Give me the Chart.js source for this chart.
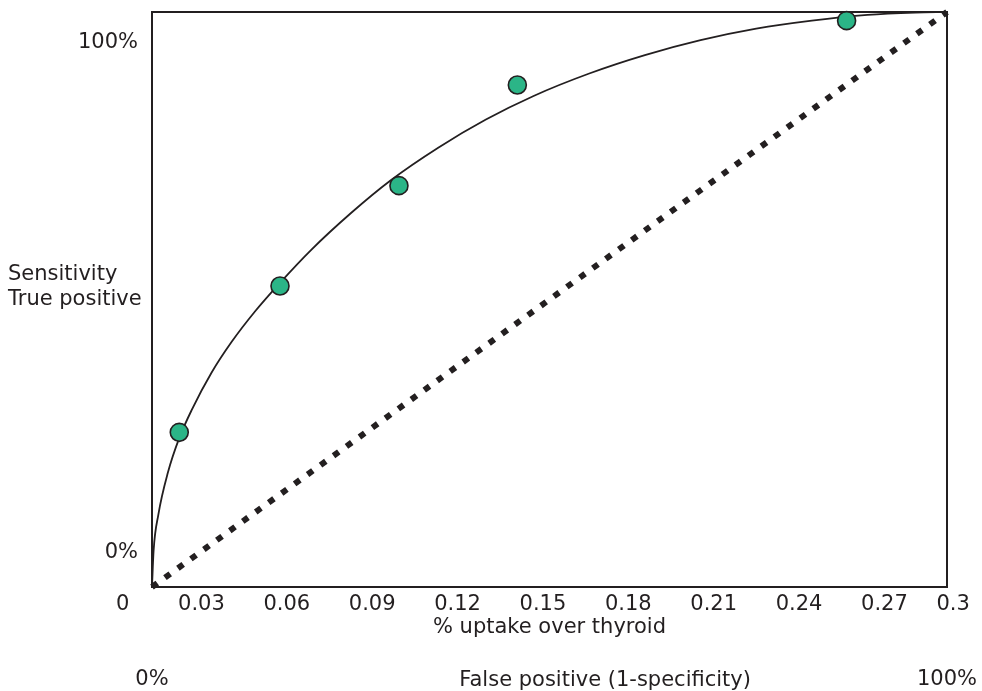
<!DOCTYPE html>
<html><head><meta charset="utf-8">
<script src="https://cdn.jsdelivr.net/npm/chart.js@4/dist/chart.umd.min.js"></script>
<style>html,body{margin:0;padding:0;background:#fff;} canvas{display:block;}</style>
</head><body>
<canvas id="c" width="982" height="691"></canvas>
<script>
// ROC curve (false-positive fraction, true-positive fraction)
const curveFP = [0, 0.002, 0.008, 0.02, 0.034, 0.05, 0.075, 0.1, 0.13, 0.161, 0.2, 0.25, 0.3, 0.36, 0.42, 0.48, 0.55, 0.62, 0.69, 0.76, 0.83, 0.9, 0.96, 1];
const curveTP = [0, 0.063, 0.126, 0.199, 0.258, 0.308, 0.373, 0.426, 0.480, 0.529, 0.586, 0.650, 0.707, 0.764, 0.813, 0.854, 0.893, 0.925, 0.951, 0.971, 0.985, 0.995, 0.999, 1];
// measured points: % uptake over thyroid and sensitivity
const pointUptake = [0.0222, 0.0576, 0.0994, 0.141, 0.2567];
const pointSens = [0.269, 0.5235, 0.698, 0.873, 0.985];
// chance diagonal
const chanceFP = [0, 1];
const chanceTP = [0, 1];
// tick labels
const uptakeTicks = [0, 0.03, 0.06, 0.09, 0.12, 0.15, 0.18, 0.21, 0.24, 0.27, 0.3];
const uptakeTickLabels = ['0', '0.03', '0.06', '0.09', '0.12', '0.15', '0.18', '0.21', '0.24', '0.27', '0.3'];
const sensTicks = [0, 1];
const sensTickLabels = ['0%', '100%'];
const fpTicks = [0, 1];
const fpTickLabels = ['0%', '100%'];
const yTitleLines = ['Sensitivity', 'True positive'];
const xTitle = '% uptake over thyroid';
const fpTitle = 'False positive (1-specificity)';

const INK = '#231f20';
const FONT = '"DejaVu Sans", Verdana, sans-serif';
Chart.defaults.color = INK;
Chart.defaults.font.family = FONT;
Chart.defaults.font.size = 21;

const framePlugin = {
  id: 'frame',
  beforeDatasetsDraw(chart) {
    const {ctx, chartArea: a} = chart;
    ctx.save();
    ctx.strokeStyle = INK;
    ctx.lineWidth = 2;
    ctx.strokeRect(a.left, a.top, a.right - a.left, a.bottom - a.top);
    ctx.restore();
  },
  afterDraw(chart) {
    const {ctx, chartArea: a} = chart;
    ctx.save();
    ctx.font = '21px ' + FONT;
    ctx.fillStyle = INK;
    ctx.textBaseline = 'alphabetic';
    ctx.textAlign = 'left';
    const midY = (a.top + a.bottom) / 2;
    ctx.fillText(yTitleLines[0], 8, midY - 20);
    ctx.fillText(yTitleLines[1], 8, midY + 5.5);
    ctx.textAlign = 'center';
    ctx.fillText(fpTitle, a.left + 0.57 * (a.right - a.left), 686);
    ctx.restore();
  }
};

const setTicks = (vals) => (scale) => { scale.ticks = vals.map(v => ({value: v})); };

new Chart(document.getElementById('c'), {
  type: 'scatter',
  data: {
    datasets: [
      {
        label: 'chance',
        data: chanceFP.map((x, i) => ({x, y: chanceTP[i]})),
        xAxisID: 'fp', yAxisID: 'tp',
        showLine: true, borderColor: INK, borderWidth: 6,
        borderDash: [6.5, 9.5], pointRadius: 0, clip: false, order: 3
      },
      {
        label: 'ROC',
        data: curveFP.map((x, i) => ({x, y: curveTP[i]})),
        xAxisID: 'fp', yAxisID: 'tp',
        showLine: true, borderColor: INK, borderWidth: 1.8,
        cubicInterpolationMode: 'monotone', pointRadius: 0, clip: false, order: 2
      },
      {
        label: 'points',
        data: pointUptake.map((x, i) => ({x, y: pointSens[i]})),
        xAxisID: 'xu', yAxisID: 'tp',
        showLine: false, pointRadius: 9, pointBorderWidth: 1.6,
        pointBackgroundColor: '#2bb587', pointBorderColor: INK, clip: false, order: 1
      }
    ]
  },
  options: {
    responsive: false,
    animation: false,
    events: [],
    layout: {padding: {top: 12, right: 35, left: 0, bottom: 0}},
    plugins: {legend: {display: false}, tooltip: {enabled: false}, title: {display: false}},
    scales: {
      fp: {
        type: 'linear', position: 'bottom', axis: 'x', min: 0, max: 1, weight: 1,
        grid: {display: false, drawTicks: false}, border: {display: false},
        afterBuildTicks: setTicks(fpTicks),
        ticks: {padding: 26.5, autoSkip: false, maxRotation: 0, callback: (v, i) => fpTickLabels[i]},
        afterFit: (s) => { s.height = 51; s.paddingLeft = 0; s.paddingRight = 0; }
      },
      xu: {
        type: 'linear', position: 'bottom', axis: 'x', min: 0.01262, max: 0.29198, weight: 0,
        grid: {display: false, drawTicks: false}, border: {display: false},
        afterBuildTicks: setTicks(uptakeTicks),
        ticks: {padding: 4.5, align: 'inner', autoSkip: false, maxRotation: 0, callback: (v, i) => uptakeTickLabels[i]},
        title: {display: true, text: xTitle, padding: {top: 0, bottom: 0}},
        afterFit: (s) => { s.height = 53; s.paddingLeft = 0; s.paddingRight = 0; }
      },
      tp: {
        type: 'linear', position: 'left', axis: 'y', min: 0, max: 1, display: false
      },
      yl: {
        type: 'linear', position: 'left', axis: 'y', min: -0.0667, max: 1.0608,
        grid: {display: false, drawTicks: false}, border: {display: false},
        afterBuildTicks: setTicks(sensTicks),
        ticks: {padding: 14, autoSkip: false, callback: (v, i) => sensTickLabels[i]},
        afterFit: (s) => { s.width = 152; s.paddingTop = 0; s.paddingBottom = 0; }
      }
    }
  },
  plugins: [framePlugin]
});
</script>
</body></html>
